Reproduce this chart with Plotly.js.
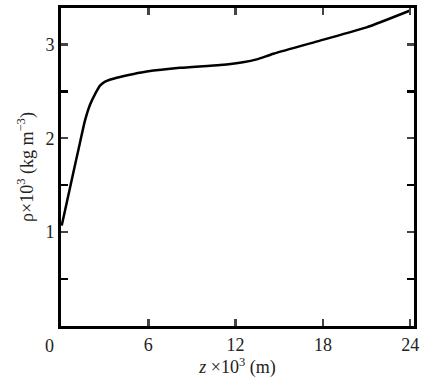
<!DOCTYPE html>
<html><head><meta charset="utf-8">
<script src="https://cdn.plot.ly/plotly-3.0.1.min.js"></script>
<style>html,body{margin:0;padding:0;background:#fff}</style>
</head><body><div id="chart" style="width:440px;height:381px"></div>
<script>
// depth z (x10^3 m) and density rho (x10^3 kg m^-3)
var zVals   = [0.05, 0.6, 1.2, 1.65, 2.0, 2.34, 2.68, 3.0, 3.4, 3.83, 5.0, 5.89, 8.18, 10.93, 12.5, 13.45, 14.59, 17.8, 21.0, 24.0];
var rhoVals = [1.07, 1.46, 1.88, 2.19, 2.36, 2.47, 2.56, 2.60, 2.625, 2.645, 2.685, 2.71, 2.75, 2.78, 2.81, 2.84, 2.90, 3.04, 3.18, 3.36];
var xTickVals = [6, 12, 18, 24];
var xTickText = ["6", "12", "18", "24"];
var yTickVals = [1, 2, 3];
var yTickText = ["1", "2", "3"];
var yMinorVals = [0.5, 1.5, 2.5];

var font = {family: "Liberation Serif, Times New Roman, serif", size: 18, color: "#222"};
var trace = {x: zVals, y: rhoVals, mode: "lines", line: {color: "#000", width: 2.5, shape: "spline", smoothing: 0.5}, hoverinfo: "skip"};
var layout = {
  width: 440, height: 381,
  margin: {l: 61, r: 26, t: 8, b: 55},
  paper_bgcolor: "#fff", plot_bgcolor: "#fff",
  font: font, showlegend: false,
  xaxis: {range: [0, 24.26], tickvals: xTickVals, ticktext: xTickText, ticks: "inside", ticklen: 7, tickwidth: 2.5,
          showline: true, linewidth: 3, linecolor: "#000", mirror: "ticks", showgrid: false, zeroline: false,
          tickfont: font, title: {text: "<i>z</i> ×10<sup>3</sup> (m)", font: font, standoff: 6}},
  yaxis: {range: [0, 3.387], tickvals: yTickVals, ticktext: yTickText, ticks: "inside", ticklen: 7, tickwidth: 2.5,
          minor: {tickvals: yMinorVals, ticks: "inside", ticklen: 7, tickwidth: 2.5, tickcolor: "#000", showgrid: false},
          showline: true, linewidth: 3, linecolor: "#000", mirror: "ticks", showgrid: false, zeroline: false,
          tickfont: font, title: {text: "ρ×10<sup>3</sup> (kg m<sup>−3</sup>)", font: font, standoff: 8}},
  annotations: [{text: "0", xref: "paper", yref: "paper", x: 0, y: 0, xshift: -12, yshift: -8, xanchor: "center", yanchor: "top", showarrow: false, font: font}]
};
Plotly.newPlot("chart", [trace], layout, {staticPlot: true, displayModeBar: false});
</script></body></html>
